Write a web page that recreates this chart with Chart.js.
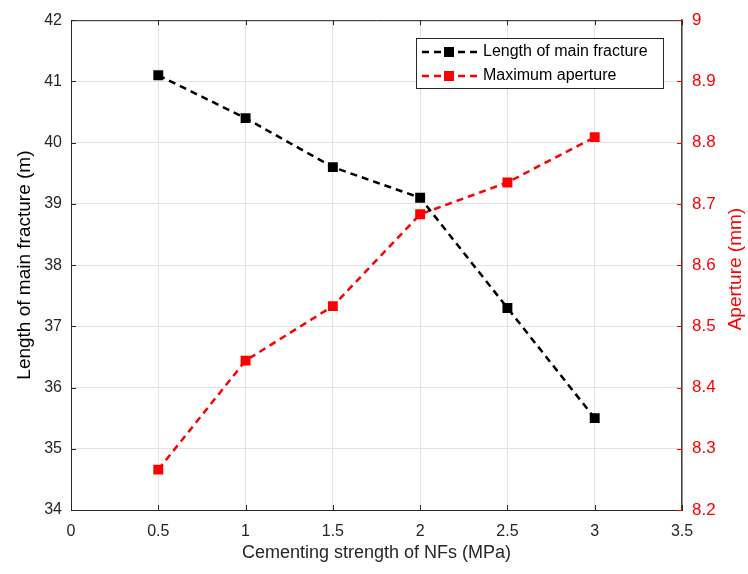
<!DOCTYPE html>
<html>
<head>
<meta charset="utf-8">
<script src="https://cdn.jsdelivr.net/npm/chart.js@4/dist/chart.umd.min.js"></script>
<style>
  html, body { margin: 0; padding: 0; background: #fff; }
</style>
</head>
<body>
<canvas id="chart" width="748" height="574"></canvas>
<script>
// data
const strength = [0.5, 1, 1.5, 2, 2.5, 3];
const fractureLength = [41.1, 40.4, 39.6, 39.1, 37.3, 35.5];
const maxAperture = [8.266, 8.444, 8.533, 8.683, 8.735, 8.809];
const seriesNames = ["Length of main fracture", "Maximum aperture"];
const seriesColors = ["#000000", "#ff0000"];

const FONT = "'Liberation Sans', Arial, sans-serif";

// box round the plot, inward ticks, right axis title (bottom-to-top) + legend
const framePlugin = {
  id: "frame",
  afterDraw(chart) {
    const ctx = chart.ctx;
    const a = chart.chartArea;
    ctx.save();
    ctx.strokeStyle = "#262626";
    ctx.lineWidth = 1;
    ctx.beginPath();
    ctx.moveTo(a.left, a.top + 0.5);
    ctx.lineTo(a.right, a.top + 0.5);
    ctx.stroke();

    // inward tick marks, matlab style
    const tl = 5;
    ctx.beginPath();
    chart.scales.y.ticks.forEach((t) => {
      const py = Math.round(chart.scales.y.getPixelForValue(t.value)) + 0.5;
      ctx.moveTo(a.left, py);
      ctx.lineTo(a.left + tl, py);
    });
    chart.scales.x.ticks.forEach((t) => {
      const px = Math.round(chart.scales.x.getPixelForValue(t.value)) + 0.5;
      ctx.moveTo(px, a.bottom);
      ctx.lineTo(px, a.bottom - tl);
      ctx.moveTo(px, a.top);
      ctx.lineTo(px, a.top + tl);
    });
    ctx.stroke();
    ctx.strokeStyle = "#ff0000";
    ctx.beginPath();
    chart.scales.y1.ticks.forEach((t) => {
      const py = Math.round(chart.scales.y1.getPixelForValue(t.value)) + 0.5;
      ctx.moveTo(a.right, py);
      ctx.lineTo(a.right - tl, py);
    });
    ctx.stroke();

    // right title, same direction as the left one
    ctx.save();
    ctx.translate(736, (a.top + a.bottom) / 2 + 4);
    ctx.rotate(-Math.PI / 2);
    ctx.fillStyle = "#ff0000";
    ctx.font = "19px " + FONT;
    ctx.textAlign = "center";
    ctx.textBaseline = "middle";
    ctx.fillText("Aperture (mm)", 0, 0);
    ctx.restore();

    // legend
    const bx = 416, by = 38, bw = 247, bh = 50;
    ctx.fillStyle = "#fff";
    ctx.fillRect(bx, by, bw, bh);
    ctx.strokeStyle = "#262626";
    ctx.lineWidth = 1;
    ctx.strokeRect(bx + 0.5, by + 0.5, bw, bh);
    ctx.font = "16px " + FONT;
    ctx.textBaseline = "middle";
    seriesNames.forEach((name, i) => {
      const y = by + 14 + i * 24;
      ctx.strokeStyle = seriesColors[i];
      ctx.fillStyle = seriesColors[i];
      ctx.lineWidth = 2.5;
      ctx.setLineDash([7, 5]);
      ctx.beginPath();
      ctx.moveTo(bx + 6, y);
      ctx.lineTo(bx + 62, y);
      ctx.stroke();
      ctx.setLineDash([]);
      ctx.fillRect(bx + 28, y - 5, 10, 10);
      ctx.fillStyle = "#000";
      ctx.fillText(name, bx + 67, y);
    });
    ctx.restore();
  }
};

const ctx = document.getElementById("chart").getContext("2d");
new Chart(ctx, {
  type: "line",
  data: {
    datasets: [
      {
        label: seriesNames[0],
        data: strength.map((x, i) => ({ x: x, y: fractureLength[i] })),
        yAxisID: "y",
        borderColor: seriesColors[0],
        backgroundColor: seriesColors[0],
        borderWidth: 2.5,
        borderDash: [7, 5],
        pointStyle: "rect",
        pointRadius: 7,
        pointBorderWidth: 0,
        tension: 0,
      },
      {
        label: seriesNames[1],
        data: strength.map((x, i) => ({ x: x, y: maxAperture[i] })),
        yAxisID: "y1",
        borderColor: seriesColors[1],
        backgroundColor: seriesColors[1],
        borderWidth: 2.5,
        borderDash: [7, 5],
        pointStyle: "rect",
        pointRadius: 7,
        pointBorderWidth: 0,
        tension: 0,
      },
    ],
  },
  options: {
    responsive: false,
    animation: false,
    layout: { padding: { top: 18, left: 0, right: 0, bottom: 0 } },
    plugins: {
      legend: { display: false },
      tooltip: { enabled: false },
    },
    scales: {
      x: {
        type: "linear",
        min: 0,
        max: 3.5,
        ticks: {
          stepSize: 0.5,
          color: "#262626",
          font: { family: FONT, size: 16 },
          padding: 12,
          maxRotation: 0,
          callback: (v) => String(+v.toFixed(1)),
        },
        grid: { color: "#e3e3e3", drawTicks: false },
        border: { color: "#262626", width: 1 },
        title: {
          display: true,
          text: "Cementing strength of NFs (MPa)",
          color: "#262626",
          font: { family: FONT, size: 18 },
          padding: { top: 0, bottom: 10 },
        },
        afterFit(scale) { scale.height = 64; },
      },
      y: {
        position: "left",
        min: 34,
        max: 42,
        ticks: {
          stepSize: 1,
          color: "#262626",
          font: { family: FONT, size: 16 },
          padding: 9,
        },
        grid: { color: "#e3e3e3", drawTicks: false },
        border: { color: "#262626", width: 1 },
        title: {
          display: true,
          text: "Length of main fracture (m)",
          color: "#000",
          font: { family: FONT, size: 19 },
          padding: { top: 13, bottom: 0 },
        },
        afterFit(scale) { scale.width = 71; },
      },
      y1: {
        position: "right",
        min: 8.2,
        max: 9,
        ticks: {
          stepSize: 0.1,
          color: "#ff0000",
          font: { family: FONT, size: 17 },
          padding: 10,
          callback: (v) => String(+v.toFixed(1)),
        },
        grid: { drawOnChartArea: false, drawTicks: false },
        border: { color: "#4d3a3a", width: 1.5 },
        title: { display: false },
        afterFit(scale) { scale.width = 66; },
      },
    },
  },
  plugins: [framePlugin],
});
</script>
</body>
</html>
